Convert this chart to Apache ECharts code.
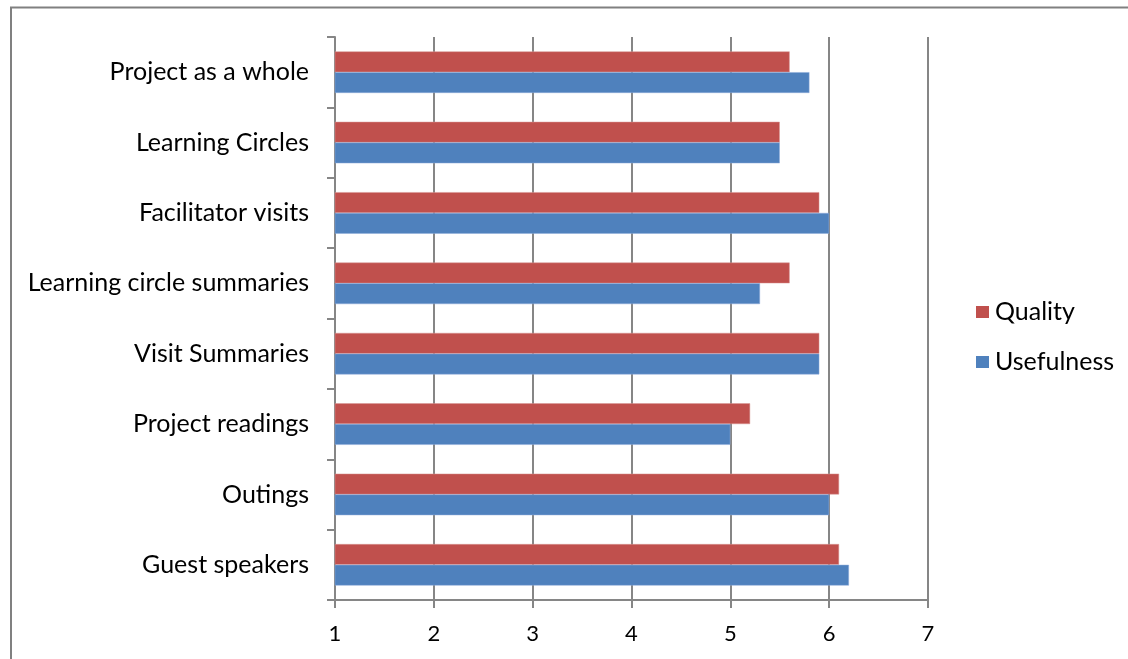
<!DOCTYPE html>
<html>
<head>
<meta charset="utf-8">
<script src="https://cdn.jsdelivr.net/npm/echarts@6/dist/echarts.min.js"></script>
<style>
  html, body { margin: 0; padding: 0; background: #ffffff; }
  #chart { width: 1128px; height: 659px; }
</style>
</head>
<body>
<div id="chart"></div>
<script>
// Activities, listed bottom to top as they appear on the category axis
const categories = [
  'Guest speakers',
  'Outings',
  'Project readings',
  'Visit Summaries',
  'Learning circle summaries',
  'Facilitator visits',
  'Learning Circles',
  'Project as a whole'
];
const usefulness = [6.2, 6.0, 5.0, 5.9, 5.3, 6.0, 5.5, 5.8];
const quality    = [6.1, 6.1, 5.2, 5.9, 5.6, 5.9, 5.5, 5.6];
const legendOrder = ['Quality', 'Usefulness'];

const labelFont = 'Lato, "Open Sans", "Liberation Sans", sans-serif';
const axisGray = '#868686';

const chart = echarts.init(document.getElementById('chart'), null, { renderer: 'canvas' });

chart.setOption({
  backgroundColor: '#ffffff',
  animation: false,
  graphic: [{
    type: 'polyline',
    shape: { points: [[11, 659], [11, 7.5], [1128, 7.5]] },
    style: { stroke: '#808080', lineWidth: 2, fill: null },
    silent: true
  }],
  legend: {
    data: legendOrder,
    orient: 'vertical',
    left: 976,
    top: 299,
    padding: 0,
    itemWidth: 13,
    itemHeight: 12,
    itemGap: 24,
    icon: 'rect',
    itemStyle: { borderWidth: 0 },
    textStyle: { fontFamily: labelFont, fontSize: 25, lineHeight: 26, color: '#000000', padding: [0, 0, 0, 1] }
  },
  grid: { left: 335, right: 200, top: 37, bottom: 59 },
  xAxis: {
    type: 'value',
    min: 1,
    max: 7,
    interval: 1,
    axisLine: { show: true, lineStyle: { color: axisGray, width: 2 } },
    axisTick: { show: true, length: 8, lineStyle: { color: axisGray, width: 2 } },
    splitLine: { show: true, lineStyle: { color: axisGray, width: 2 } },
    axisLabel: { margin: 23, fontFamily: labelFont, fontSize: 22, color: '#000000' }
  },
  yAxis: {
    type: 'category',
    data: categories,
    axisLine: { show: true, lineStyle: { color: axisGray, width: 2 } },
    axisTick: { show: true, length: 8, lineStyle: { color: axisGray, width: 2 } },
    axisLabel: { margin: 26, fontFamily: labelFont, fontSize: 25, color: '#000000' }
  },
  series: [
    {
      name: 'Quality',
      type: 'bar',
      data: quality,
      barGap: '0%',
      barCategoryGap: '41%',
      itemStyle: { color: '#C0504D', borderColor: '#D99694', borderWidth: 0.5 }
    },
    {
      name: 'Usefulness',
      type: 'bar',
      data: usefulness,
      barGap: '0%',
      barCategoryGap: '41%',
      itemStyle: { color: '#4F81BD', borderColor: '#8EAADB', borderWidth: 0.5 }
    }
  ]
});
</script>
</body>
</html>
